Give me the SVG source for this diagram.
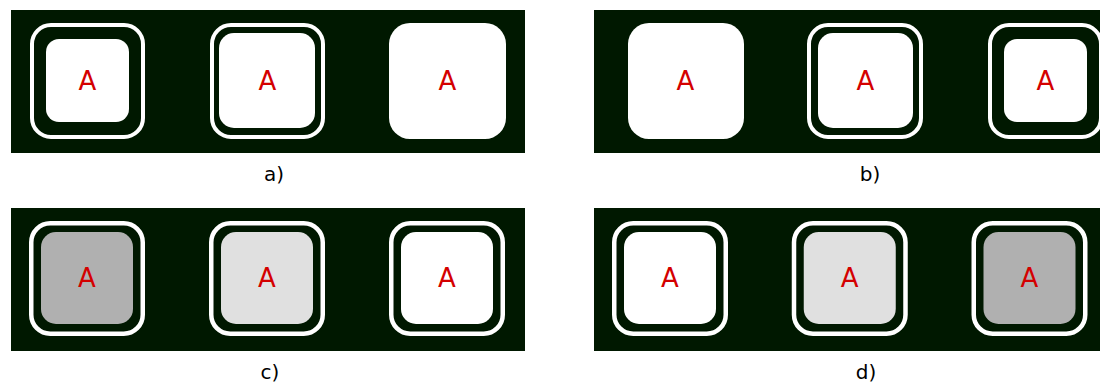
<svg xmlns="http://www.w3.org/2000/svg" width="1100" height="383" viewBox="0 0 1100 383">
<style>
.panel{fill:#001800}
.ring{fill:none;stroke:#ffffff;stroke-width:4}
.ring2{fill:none;stroke:#ffffff;stroke-width:4.5}
.w{fill:#ffffff}
.g1{fill:#b0b0b0}
.g2{fill:#e0e0e0}
.lbl{font-family:"DejaVu Sans",Verdana,sans-serif;font-size:26px;fill:#d40000;text-anchor:middle}
.cap{font-family:"DejaVu Sans",Verdana,sans-serif;font-size:20px;fill:#000000;text-anchor:middle}
</style>
<rect width="1100" height="383" fill="#ffffff"/>
<g id="panel-a">
<rect class="panel" x="11" y="10" width="514" height="143"/>
<g id="a1"><rect class="ring" x="32" y="25" width="111" height="112" rx="19"/><rect class="w" x="46" y="39" width="83" height="83" rx="13"/><text class="lbl" x="87.5" y="90">A</text></g>
<g id="a2"><rect class="ring" x="212" y="25" width="111" height="112" rx="19"/><rect class="w" x="219" y="33" width="96" height="95" rx="15"/><text class="lbl" x="267.5" y="90">A</text></g>
<g id="a3"><rect class="w" x="389" y="23" width="117" height="116" rx="21"/><text class="lbl" x="447.5" y="90">A</text></g>
<text class="cap" x="274" y="181">a)</text>
</g>
<g id="panel-b">
<rect class="panel" x="594" y="10" width="506" height="143"/>
<g id="b1"><rect class="w" x="628" y="23" width="116" height="116" rx="21"/><text class="lbl" x="685.5" y="90">A</text></g>
<g id="b2"><rect class="ring" x="809" y="25" width="112" height="112" rx="19"/><rect class="w" x="818" y="33" width="95" height="95" rx="15"/><text class="lbl" x="865.5" y="90">A</text></g>
<g id="b3"><rect class="ring" x="990" y="25" width="111" height="112" rx="19"/><rect class="w" x="1004" y="39" width="83" height="83" rx="13"/><text class="lbl" x="1045.5" y="90">A</text></g>
<text class="cap" x="870" y="181">b)</text>
</g>
<g id="panel-c">
<rect class="panel" x="11" y="208" width="514" height="143"/>
<g id="c1"><rect class="ring2" x="31.25" y="223.25" width="111.5" height="110.5" rx="19"/><rect class="g1" x="41" y="232" width="92" height="92" rx="15"/><text class="lbl" x="87" y="287">A</text></g>
<g id="c2"><rect class="ring2" x="211.25" y="223.25" width="111.5" height="110.5" rx="19"/><rect class="g2" x="221" y="232" width="92" height="92" rx="15"/><text class="lbl" x="267" y="287">A</text></g>
<g id="c3"><rect class="ring2" x="391.25" y="223.25" width="111.5" height="110.5" rx="19"/><rect class="w" x="401" y="232" width="92" height="92" rx="15"/><text class="lbl" x="447" y="287">A</text></g>
<text class="cap" x="270" y="379">c)</text>
</g>
<g id="panel-d">
<rect class="panel" x="594" y="208" width="506" height="143"/>
<g id="d1"><rect class="ring2" x="614.25" y="223.25" width="111.5" height="110.5" rx="19"/><rect class="w" x="624" y="232" width="92" height="92" rx="15"/><text class="lbl" x="670" y="287">A</text></g>
<g id="d2"><rect class="ring2" x="794" y="223.25" width="111.5" height="110.5" rx="19"/><rect class="g2" x="803.75" y="232" width="92" height="92" rx="15"/><text class="lbl" x="849.75" y="287">A</text></g>
<g id="d3"><rect class="ring2" x="973.75" y="223.25" width="111.5" height="110.5" rx="19"/><rect class="g1" x="983.5" y="232" width="92" height="92" rx="15"/><text class="lbl" x="1029.5" y="287">A</text></g>
<text class="cap" x="866" y="379">d)</text>
</g>
</svg>
